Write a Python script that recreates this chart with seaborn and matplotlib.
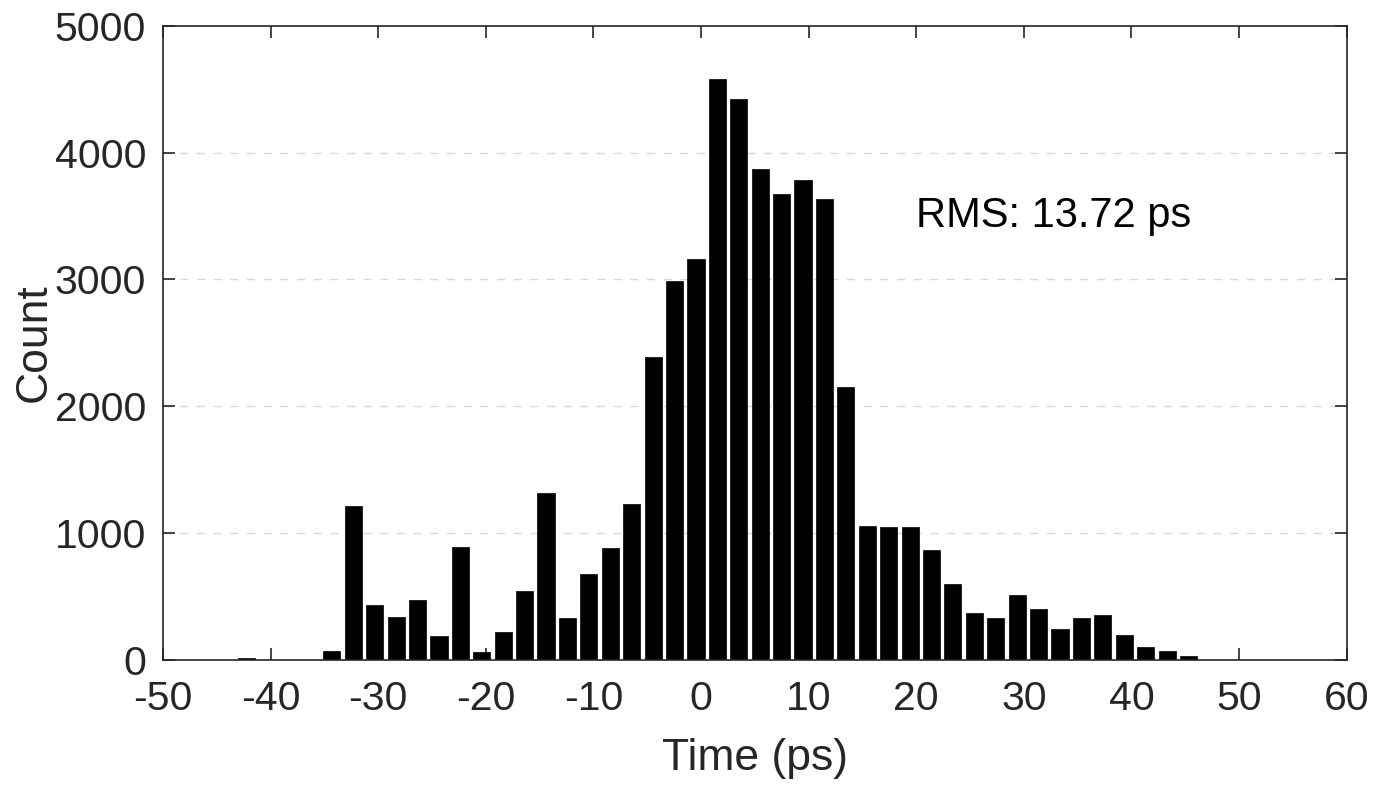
import matplotlib
matplotlib.use("Agg")
import matplotlib.pyplot as plt
import seaborn as sns

# bin centres (ps) and counts
bin_centers = [-42.26, -40.27, -38.28, -36.29, -34.30, -32.31, -30.32, -28.33,
               -26.34, -24.35, -22.36, -20.37, -18.38, -16.39, -14.40, -12.41,
               -10.42, -8.43, -6.44, -4.45, -2.46, -0.47, 1.52, 3.51, 5.50,
               7.49, 9.48, 11.47, 13.46, 15.45, 17.44, 19.43, 21.42, 23.41,
               25.40, 27.39, 29.38, 31.37, 33.36, 35.35, 37.34, 39.33, 41.32,
               43.31, 45.30]
counts = [15, 0, 0, 0, 70, 1215, 427, 332, 469, 187, 889, 58, 219, 543, 1311,
          330, 672, 883, 1231, 2389, 2990, 3165, 4581, 4428, 3874, 3676, 3784,
          3637, 2149, 1052, 1047, 1047, 865, 599, 366, 324, 506, 398, 237, 330,
          354, 192, 95, 71, 26]

x_ticks = [-50, -40, -30, -20, -10, 0, 10, 20, 30, 40, 50, 60]
y_ticks = [0, 1000, 2000, 3000, 4000, 5000]
rms_label = "RMS: 13.72 ps"

sns.set_theme(style="ticks")
plt.rcParams['font.family'] = ['Liberation Sans', 'DejaVu Sans']

fig = plt.figure(figsize=(13.75, 7.89), dpi=100)
ax = fig.add_axes([0.1185, 0.1641, 0.8609, 0.8029])

sns.barplot(x=bin_centers, y=counts, native_scale=True, width=0.8,
            color="black", edgecolor="black", linewidth=0.5,
            errorbar=None, ax=ax)

ax.set_xlim(-50, 60)
ax.set_ylim(0, 5000)
ax.set_xticks(x_ticks)
ax.set_yticks(y_ticks)
ax.set_xticklabels([str(t) for t in x_ticks])
ax.set_yticklabels([str(t) for t in y_ticks])

# MATLAB-like box with inward ticks
for side in ['top', 'right', 'bottom', 'left']:
    ax.spines[side].set_visible(True)
    ax.spines[side].set_color('#262626')
    ax.spines[side].set_linewidth(1.2)
ax.tick_params(axis='both', direction='in', top=True, right=True,
               length=8.5, width=1.2, color='#262626',
               labelsize=29.5, labelcolor='#262626')
ax.tick_params(axis='x', pad=15)
ax.tick_params(axis='y', pad=12)

# dashed horizontal grid
for y in y_ticks[1:-1]:
    ax.axhline(y, color='#d9d9d9', linestyle=(0, (6, 6)), linewidth=1.0, zorder=0)
ax.set_axisbelow(True)

ax.set_xlabel("Time (ps)", fontsize=32, color='#262626', labelpad=14)
ax.set_ylabel("Count", fontsize=32, color='#262626', labelpad=0)

ax.text(20, 3500, rms_label, fontsize=30, color='black', ha='left', va='center')

fig.savefig("out.png", dpi=100)
